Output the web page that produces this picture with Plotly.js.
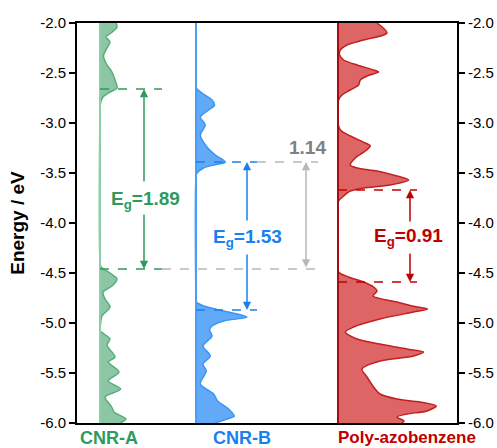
<!DOCTYPE html>
<html><head><meta charset="utf-8">
<script src="https://cdn.plot.ly/plotly-3.0.1.min.js"></script>
<style>html,body{margin:0;padding:0;background:#fff;}</style>
</head><body><div id="chart" style="width:497px;height:448px;"></div>
<script>
// Panel names
const panels = ['CNR-A', 'CNR-B', 'Poly-azobenzene'];
// CNR-A DOS (energy in eV, DOS width in arbitrary units)
const eA = [-2.00,-2.04,-2.10,-2.14,-2.19,-2.25,-2.33,-2.42,-2.49,-2.57,-2.65,-2.69,-2.74,-2.80,-2.90,-4.38,-4.44,-4.50,-4.56,-4.63,-4.69,-4.76,-4.84,-4.93,-5.01,-5.08,-5.11,-5.16,-5.22,-5.34,-5.39,-5.49,-5.58,-5.66,-5.74,-5.84,-5.89,-5.96,-6.00];
const dA = [16,17,11,6,10,7,3.5,7,12,15,17,10,3,0.5,0,0,1,10,17,12,3,5,10,2,0.5,0.5,4,10,7,15,8.3,19,8.3,20.7,5,11.7,14,26,20];
// CNR-B DOS
const eB = [-2.00,-2.60,-2.65,-2.70,-2.77,-2.82,-2.87,-2.94,-3.02,-3.12,-3.24,-3.32,-3.39,-3.42,-3.45,-3.50,-3.54,-4.75,-4.79,-4.83,-4.88,-4.94,-4.98,-5.03,-5.07,-5.13,-5.23,-5.33,-5.41,-5.48,-5.61,-5.71,-5.78,-5.86,-5.93,-5.96,-6.00];
const dB = [0,0,0.3,6,16,18.6,12.6,4.3,9.3,4.3,11,19.3,29.3,17.6,7.6,1,0,0,0.3,7.6,27.6,51,27.6,16,13.6,16,7,14.3,7,10.3,4.3,17.6,21.6,32.6,38.3,31,19];
// Poly-azobenzene DOS
const eP = [-2.00,-2.10,-2.17,-2.22,-2.27,-2.32,-2.37,-2.42,-2.47,-2.49,-2.53,-2.57,-2.62,-2.67,-2.72,-2.77,-2.85,-3.00,-3.07,-3.13,-3.20,-3.23,-3.28,-3.35,-3.42,-3.45,-3.48,-3.53,-3.57,-3.62,-3.65,-3.68,-3.73,-3.78,-3.85,-4.42,-4.49,-4.54,-4.59,-4.64,-4.68,-4.73,-4.79,-4.84,-4.86,-4.89,-4.96,-5.04,-5.09,-5.16,-5.21,-5.26,-5.29,-5.33,-5.38,-5.46,-5.54,-5.64,-5.71,-5.76,-5.79,-5.83,-5.88,-5.91,-5.94,-5.98,-6.00];
const dP = [39,49,25.6,9,2.3,1.6,5.6,19,35.6,40.6,29,22.3,20.6,12.3,4,0.6,0,0,2.3,12.3,27.3,32.3,27.3,17.3,12.3,19,39,59,70.6,52.3,25.6,12.3,5.6,0.6,0,0,0.5,10.6,25.6,35.6,39,35,59,79,89.6,75.6,42,15.6,7.3,19,42,69,85.6,75.6,42,24,29,35.6,42,59,82,98.3,89,69,59,66,64];
// Band edges (eV) and gap labels
const cbm = [-2.66, -3.39, -3.67];
const vbm = [-4.46, -4.87, -4.59];
const gapLabels = ['1.89', '1.53', '0.91'];
const offsetLabel = '1.14';
// Axis ticks
const yTicks = [-2.0,-2.5,-3.0,-3.5,-4.0,-4.5,-5.0,-5.5,-6.0];

const lineCol = ['#56ad7b', '#3b95f3', '#c41f1f'];
const fillCol = ['rgba(80,168,115,0.65)', 'rgba(45,140,245,0.75)', 'rgba(210,50,50,0.75)'];
const textCol = ['#2e9a5e', '#1a80f0', '#c00000'];
const baseCol = ['#8ccfa6', '#4a9ff5', '#a80c0c'];
const grey = '#b8b8b8';
const axes = ['x', 'x2', 'x3'];
const ePanels = [eA, eB, eP], dPanels = [dA, dB, dP];

const traces = ePanels.map((e, i) => ({
  type: 'scatter', mode: 'lines', x: dPanels[i], y: e,
  xaxis: axes[i], yaxis: 'y', fill: 'tozerox', fillcolor: fillCol[i],
  line: {color: lineCol[i], width: 1.5, shape: 'spline', smoothing: 0.8},
  hoverinfo: 'skip', showlegend: false
}));
// dummy for right axis
traces.push({type:'scatter', x:[0], y:[-4], yaxis:'y2', xaxis:'x', mode:'markers', marker:{opacity:0}, showlegend:false, hoverinfo:'skip'});

const shapes = [];
const annotations = [];
// baselines
axes.forEach((ax, i) => {
  shapes.push({type:'line', xref:ax, yref:'y', x0:0, x1:0, y0:-6, y1:-2, line:{color:baseCol[i], width:2}, layer:'above'});
});
// dashed band-edge lines (lengths in panel units)
const dashLen = [62, 61, 79];
axes.forEach((ax, i) => {
  [cbm[i], vbm[i]].forEach(E => {
    shapes.push({type:'line', xref:ax, yref:'y', x0:0, x1:dashLen[i], y0:E, y1:E, line:{color:textCol[i], width:1.5, dash:'dash'}, layer:'above'});
  });
});
// grey extensions
shapes.push({type:'line', xref:'x', yref:'y', x0:62, x1:220, y0:vbm[0], y1:vbm[0], line:{color:grey, width:1.5, dash:'dash'}, layer:'above'});
shapes.push({type:'line', xref:'x2', yref:'y', x0:61, x1:122, y0:cbm[1], y1:cbm[1], line:{color:grey, width:1.5, dash:'dash'}, layer:'above'});

// gap arrows + labels
const arrowX = [44, 51, 72];
const txtX = [45, 51, 70];
const txtE = [-3.77, -4.15, -4.14];
const gapHalf = [[-3.60, -3.90], [-3.99, -4.30], [-4.00, -4.29]];
const nameX = [0.083, 0.433, 0.868];
const nameSize = [18, 18, 17];
function arrow(ax, x, head, tail, col) {
  return {xref:ax, yref:'y', axref:ax, ayref:'y', x:x, y:head, ax:x, ay:tail, text:'', showarrow:true,
    arrowhead:2, arrowsize:1.1, arrowwidth:1.5, arrowcolor:col, standoff:0, startstandoff:0};
}
axes.forEach((ax, i) => {
  annotations.push(arrow(ax, arrowX[i], cbm[i], gapHalf[i][0], textCol[i]));
  annotations.push(arrow(ax, arrowX[i], vbm[i], gapHalf[i][1], textCol[i]));
  annotations.push({xref:ax, yref:'y', x:txtX[i], y:txtE[i], text:'<b>E<sub>g</sub>=' + gapLabels[i] + '</b>', showarrow:false,
    font:{family:'Liberation Sans, Arial, sans-serif', size:19, color:textCol[i]}});
  annotations.push({xref:'paper', yref:'paper', x:nameX[i], y:-0.037, xanchor:'center', yanchor:'middle', text:'<b>' + panels[i] + '</b>', showarrow:false,
    font:{family:'Liberation Sans, Arial, sans-serif', size:nameSize[i], color:textCol[i]}});
});
// grey double arrow
annotations.push({xref:'x2', yref:'y', axref:'x2', ayref:'y', x:110, y:cbm[1], ax:110, ay:vbm[0], text:'', showarrow:true,
  arrowhead:2, arrowside:'end+start', arrowsize:1.1, arrowwidth:1.5, arrowcolor:grey, standoff:0, startstandoff:0});
annotations.push({xref:'x2', yref:'y', x:111, y:-3.24, text:'<b>' + offsetLabel + '</b>', showarrow:false,
  font:{family:'Liberation Sans, Arial, sans-serif', size:19, color:'#808080'}});

const tickFont = {family:'Liberation Sans, Arial, sans-serif', size:15, color:'#000'};
const layout = {
  width:497, height:448,
  margin:{l:77, r:40, t:23, b:25},
  paper_bgcolor:'#fff', plot_bgcolor:'#fff',
  showlegend:false,
  xaxis:{range:[-23, 357], showgrid:false, zeroline:false, showticklabels:false, ticks:'', showline:true, mirror:true, linecolor:'#000', linewidth:2, fixedrange:true},
  xaxis2:{range:[-119, 261], overlaying:'x', visible:false},
  xaxis3:{range:[-261, 119], overlaying:'x', visible:false},
  yaxis:{range:[-6, -2], tickvals:yTicks, ticktext:yTicks.map(v => v.toFixed(1)), ticks:'outside', ticklen:6, tickwidth:2, tickcolor:'#000',
    showline:true, linecolor:'#000', linewidth:2, showgrid:false, zeroline:false, tickfont:tickFont,
    title:{text:'<b>Energy / eV</b>', font:{family:'Liberation Sans, Arial, sans-serif', size:19, color:'#000'}, standoff:10}},
  yaxis2:{range:[-6, -2], overlaying:'y', side:'right', tickvals:yTicks, ticktext:yTicks.map(v => v.toFixed(1)), ticks:'outside', ticklen:6, tickwidth:2, tickcolor:'#000',
    showline:true, linecolor:'#000', linewidth:2, showgrid:false, zeroline:false, tickfont:tickFont},
  shapes:shapes, annotations:annotations
};
Plotly.newPlot('chart', traces, layout, {displayModeBar:false, staticPlot:true});
</script>
</body></html>
